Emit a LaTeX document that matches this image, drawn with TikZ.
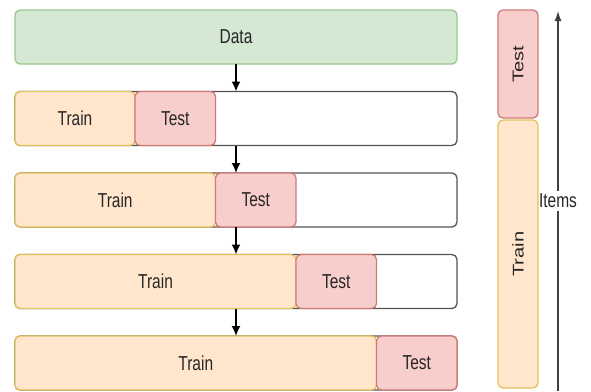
\documentclass[tikz,border=0pt]{standalone}
\usepackage{fontspec}
\setmainfont{Liberation Sans}
\usepackage{graphicx}
\usepackage{xcolor}
\usetikzlibrary{arrows.meta,positioning}
\definecolor{datafill}{HTML}{D5E8D4}
\definecolor{dataline}{HTML}{9CC68E}
\definecolor{trainfill}{HTML}{FFE6CC}
\definecolor{trainline}{HTML}{E3C25E}
\definecolor{testfill}{HTML}{F8CECC}
\definecolor{testline}{HTML}{D07A76}
\definecolor{rowline}{HTML}{555555}
\newcommand{\hlbl}[1]{\scalebox{1}[1.3]{#1}}
\newcommand{\vlbl}[1]{\rotatebox{90}{\scalebox{1.3}[1]{#1}}}
\tikzset{
        box/.style = {draw, rectangle, rounded corners=5pt,
            minimum height=54pt, inner sep=0pt, outer sep=0pt,
            line width=1.3pt, font=\fontsize{15.5pt}{18pt}\selectfont,
            text=black!85},
        databox/.style = {box, fill=datafill, draw=dataline, minimum width=442pt},
        rowbox/.style = {box, fill=white, draw=rowline, minimum width=442pt},
        trainbox/.style = {box, fill=trainfill, draw=trainline},
        testbox/.style = {box, fill=testfill, draw=testline, minimum width=80.5pt},
        arrow/.style = {draw, -{Latex[length=10pt,width=9pt]}, line width=1.7pt},
        axis/.style = {draw=black!75, -{Latex[length=10pt,width=7pt]}, line width=1.3pt},
    }

\begin{document}
\begin{tikzpicture}[x=1pt,y=1pt]
        \useasboundingbox (0,0) rectangle (591,-391);

        \node[databox, anchor=north west] (data) at (15,-10) {\hlbl{Data}};

        % rows of splits
        \node[rowbox, below=27.5pt of data] (row1) {};
        \node[trainbox, minimum width=120pt, anchor=west] (train1) at (row1.west) {\hlbl{Train}};
        \node[testbox, right=0pt of train1] (test1) {\hlbl{Test}};

        \node[rowbox, below=27.5pt of row1] (row2) {};
        \node[trainbox, minimum width=200.5pt, anchor=west] (train2) at (row2.west) {\hlbl{Train}};
        \node[testbox, right=0pt of train2] (test2) {\hlbl{Test}};

        \node[rowbox, below=27.5pt of row2] (row3) {};
        \node[trainbox, minimum width=281pt, anchor=west] (train3) at (row3.west) {\hlbl{Train}};
        \node[testbox, right=0pt of train3] (test3) {\hlbl{Test}};

        \node[rowbox, below=27.5pt of row3] (row4) {};
        \node[trainbox, minimum width=361.5pt, anchor=west] (train4) at (row4.west) {\hlbl{Train}};
        \node[testbox, right=0pt of train4] (test4) {\hlbl{Test}};

        \draw[arrow] (data.south) -- (row1.north);
        \draw[arrow] (row1.south) -- (row2.north);
        \draw[arrow] (row2.south) -- (row3.north);
        \draw[arrow] (row3.south) -- (row4.north);

        % items column
        \node[testbox, minimum width=40pt, minimum height=108pt, anchor=north west] (coltest) at (498,-10) {\vlbl{Test}};
        \node[trainbox, minimum width=40pt, minimum height=268pt, below=2pt of coltest] (coltrain) {\vlbl{Train}};

        \coordinate (axisbot) at (558,-391);
        \coordinate (axistop) at (558,-11);
        \draw[axis] (axisbot) -- node[fill=white, inner xsep=0pt, inner ysep=3pt,
            text=black!85, font=\fontsize{15.5pt}{18pt}\selectfont] (items) {\hlbl{Items}} (axistop);
\end{tikzpicture}
\end{document}
